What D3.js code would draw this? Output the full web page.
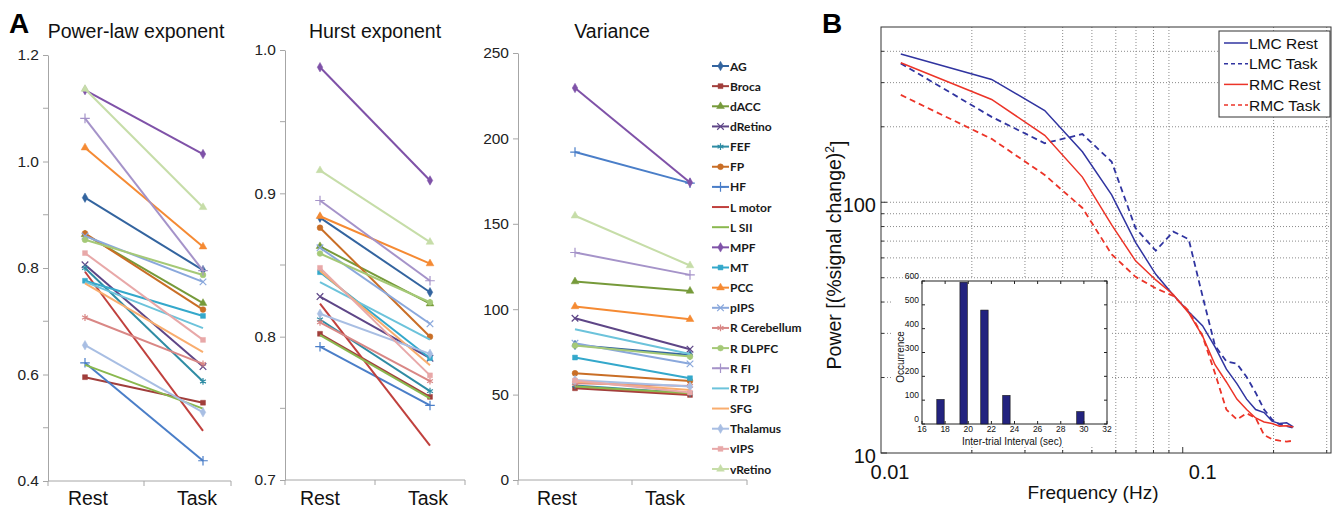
<!DOCTYPE html>
<html>
<head>
<meta charset="utf-8">
<script src="https://cdn.jsdelivr.net/npm/d3@7"></script>
<style>
  body { margin: 0; background: #fff; }
  svg { display: block; font-family: "Liberation Sans", Arial, sans-serif; }
</style>
</head>
<body>
<div id="chart"></div>
<script>
// ---- data: panel A ----
var regions = ["AG", "Broca", "dACC", "dRetino", "FEF", "FP", "HF", "L motor", "L SII", "MPF", "MT",
    "PCC", "pIPS", "R Cerebellum", "R DLPFC", "R FI", "R TPJ", "SFG", "Thalamus", "vIPS", "vRetino"];
var conditions = ["Rest", "Task"];

var plawRest = [0.932, 0.595, 0.863, 0.806, 0.800, 0.865, 0.622, 0.793, 0.618, 1.134, 0.776,
    1.026, 0.860, 0.707, 0.853, 1.081, 0.774, 0.771, 0.655, 0.828, 1.136];
var plawTask = [0.796, 0.547, 0.734, 0.615, 0.587, 0.722, 0.438, 0.494, 0.536, 1.014, 0.710,
    0.840, 0.774, 0.620, 0.787, 0.795, 0.687, 0.642, 0.529, 0.665, 0.914];

var hurstRest = [0.883, 0.802, 0.863, 0.828, 0.812, 0.876, 0.793, 0.823, 0.801, 0.988, 0.845,
    0.884, 0.862, 0.810, 0.858, 0.895, 0.838, 0.846, 0.816, 0.848, 0.916];
var hurstTask = [0.831, 0.758, 0.823, 0.785, 0.762, 0.800, 0.752, 0.724, 0.757, 0.909, 0.785,
    0.851, 0.809, 0.769, 0.824, 0.839, 0.798, 0.780, 0.788, 0.773, 0.866];

var varRest = [79.1, 53.7, 116.2, 94.7, 55.3, 62.5, 192.0, 54.7, 54.7, 229.5, 71.7,
    101.6, 80.1, 56.6, 78.7, 133.2, 88.3, 57.6, 58.6, 58.2, 154.7];
var varTask = [73.2, 49.8, 110.7, 76.6, 50.8, 58.0, 173.8, 50.2, 50.8, 174.2, 59.6,
    94.1, 68.0, 55.1, 72.3, 120.1, 73.8, 52.7, 54.7, 51.2, 125.6];

var plawTicks = [0.4, 0.6, 0.8, 1.0, 1.2], plawMinor = [0.5, 0.7, 0.9, 1.1];
var hurstTicks = [0.7, 0.8, 0.9, 1.0], hurstMinor = [0.75, 0.85, 0.95];
var varTicks = [0, 50, 100, 150, 200, 250];

// ---- data: panel B ----
var freqs = [0.01163, 0.02326, 0.03488, 0.04651, 0.05814, 0.06977, 0.08140, 0.09302, 0.10465, 0.11628,
    0.12791, 0.13953, 0.15116, 0.16279, 0.17442, 0.18605, 0.19767, 0.20930, 0.22093, 0.23256];
var lmcRest = [390, 309, 232, 159, 107, 69.2, 51.6, 42.7, 36.6, 32.2, 26.5, 21.6, 18.9, 16.4, 14.9, 14.5, 13.4, 13.1, 13.2, 12.7];
var lmcTask = [358, 219, 172, 187, 145, 78.8, 64.1, 76.4, 71.2, 42.3, 26.8, 23.2, 22.7, 20.1, 17.4, 14.9, 13.6, 13.0, 12.8, 12.6];
var rmcRest = [360, 257, 185, 126, 81.2, 58.4, 49.0, 42.9, 36.2, 29.3, 22.5, 19.2, 16.4, 14.9, 13.8, 13.3, 13.1, 12.8, 12.85, 12.7];
var rmcTask = [268, 179, 128.5, 94.9, 62.0, 50.4, 45.4, 42.3, 36.9, 29.3, 20.8, 14.9, 13.6, 14.4, 13.8, 11.8, 11.35, 11.2, 11.1, 11.2];
var freqTicks = [0.01, 0.1], powerTicks = [10, 100];

// inset histogram
var itiBins = [17.6, 19.6, 21.4, 23.3, 29.7];
var itiCounts = [103, 595, 478, 120, 52];
var itiTicks = [16, 18, 20, 22, 24, 26, 28, 30, 32], occTicks = [0, 100, 200, 300, 400, 500, 600];

// ---- styles ----
var colors = ["#33649f", "#a13e3b", "#769a3a", "#5e4687", "#2f8ca4", "#c96e26", "#4a7ec8", "#c0403d",
    "#8ab84e", "#7f52a8", "#34a8cb", "#f58a33", "#8aa8dc", "#d98785", "#a5c977", "#a593c9", "#6cc3db",
    "#f9ad6e", "#a8bee3", "#e8a8a8", "#c6dda8"];
var markers = ["diamond", "square", "triangle", "x", "star", "circle", "plus", "none", "none", "diamond",
    "square", "triangle", "x", "star", "circle", "plus", "none", "none", "diamond", "square", "triangle"];
var symbolTypes = {
    diamond: [d3.symbolDiamond, 26, true],
    square: [d3.symbolSquare, 24, true],
    triangle: [d3.symbolTriangle, 26, true],
    circle: [d3.symbolCircle, 26, true],
    x: [d3.symbolTimes, 30, false],
    star: [d3.symbolAsterisk, 32, false],
    plus: [d3.symbolPlus, 32, false]
};

var width = 1332, height = 511;
var svg = d3.select("#chart").append("svg")
    .attr("width", width)
    .attr("height", height);

function addMarker(g, i, cx, cy) {
    var m = symbolTypes[markers[i]];
    if (!m) return;
    g.append("path")
        .attr("d", d3.symbol().type(m[0]).size(m[1]))
        .attr("transform", "translate(" + cx + "," + cy + ")")
        .attr("fill", m[2] ? colors[i] : "none")
        .attr("stroke", colors[i])
        .attr("stroke-width", m[2] ? 0.5 : 1.2);
}

// ---- panel A ----
svg.append("text").attr("x", 9).attr("y", 33)
    .style("font-size", "28px").style("font-weight", "bold").text("A");

var panels = [
    { title: "Power-law exponent", rest: plawRest, task: plawTask, ticks: plawTicks, minor: plawMinor,
      fmt: ".1f", domain: [0.4, 1.2], top: 55, bottom: 481, left: 48, right: 231, mid: 144,
      pts: [85, 203], labelX: [88, 197], titleX: 136 },
    { title: "Hurst exponent", rest: hurstRest, task: hurstTask, ticks: hurstTicks, minor: hurstMinor,
      fmt: ".1f", domain: [0.7, 1.0], top: 50, bottom: 480, left: 285, right: 465, mid: 375,
      pts: [320, 430], labelX: [320, 428], titleX: 375 },
    { title: "Variance", rest: varRest, task: varTask, ticks: varTicks, minor: [],
      fmt: "d", domain: [0, 250], top: 53, bottom: 480, left: 518, right: 747, mid: 632,
      pts: [575, 690], labelX: [557, 665], titleX: 612 }
];

panels.forEach(function (p) {
    var g = svg.append("g");
    var y = d3.scaleLinear().domain(p.domain).range([p.bottom, p.top]);
    var x = d3.scalePoint().domain(conditions).range(p.pts);
    var xl = d3.scalePoint().domain(conditions).range(p.labelX);

    g.append("text")
        .attr("x", p.titleX).attr("y", 38)
        .attr("text-anchor", "middle")
        .style("font-size", "19.5px").attr("fill", "#111")
        .text(p.title);

    // y axis
    var yAxis = g.append("g")
        .attr("transform", "translate(" + p.left + ",0)")
        .call(d3.axisLeft(y).tickValues(p.ticks).tickFormat(d3.format(p.fmt)).tickSize(5).tickSizeOuter(0).tickPadding(4));
    yAxis.select(".domain").attr("stroke", "#a6a6a6");
    yAxis.selectAll(".tick line").attr("stroke", "#a6a6a6");
    yAxis.selectAll(".tick text").style("font-size", "15.5px").style("font-family", "Liberation Sans, Arial, sans-serif").attr("fill", "#222");
    p.minor.forEach(function (v) {
        g.append("line").attr("x1", p.left - 5).attr("x2", p.left)
            .attr("y1", y(v)).attr("y2", y(v)).attr("stroke", "#a6a6a6");
    });

    // category axis
    g.append("line").attr("x1", p.left).attr("x2", p.right)
        .attr("y1", p.bottom).attr("y2", p.bottom).attr("stroke", "#a6a6a6");
    [p.left, p.mid, p.right].forEach(function (tx) {
        g.append("line").attr("x1", tx).attr("x2", tx)
            .attr("y1", p.bottom).attr("y2", p.bottom + 5).attr("stroke", "#a6a6a6");
    });
    conditions.forEach(function (c) {
        g.append("text").attr("x", xl(c)).attr("y", 505)
            .attr("text-anchor", "middle").style("font-size", "19.5px").attr("fill", "#111")
            .text(c);
    });

    // one line per region, Rest -> Task
    var line = d3.line().x(function (d) { return x(d.c); }).y(function (d) { return y(d.v); });
    regions.forEach(function (r, i) {
        var pts = [{ c: "Rest", v: p.rest[i] }, { c: "Task", v: p.task[i] }];
        g.append("path").datum(pts)
            .attr("d", line)
            .attr("fill", "none")
            .attr("stroke", colors[i])
            .attr("stroke-width", 2);
        pts.forEach(function (d) { addMarker(g, i, x(d.c), y(d.v)); });
    });
});

// legend for panel A
var legA = svg.append("g");
regions.forEach(function (r, i) {
    var ly = 66 + i * 20.15;
    legA.append("line").attr("x1", 712).attr("x2", 729).attr("y1", ly).attr("y2", ly)
        .attr("stroke", colors[i]).attr("stroke-width", 2);
    addMarker(legA, i, 720.5, ly);
    legA.append("text").attr("x", 730).attr("y", ly + 4.5)
        .style("font-family", "Lato, sans-serif").style("font-weight", "bold").style("font-size", "12px")
        .attr("fill", "#1a1a1a").text(r);
});

// ---- panel B ----
var bx = d3.scaleLog().domain([0.01, 0.31]).range([881, 1331]);
var by = d3.scaleLog().domain([10, 500]).range([453, 27]);
var gB = svg.append("g");

svg.append("text").attr("x", 822).attr("y", 33)
    .style("font-size", "28px").style("font-weight", "bold").text("B");

gB.append("rect").attr("x", 881).attr("y", 27).attr("width", 450).attr("height", 426).attr("fill", "#fff");

// dotted grid
var xGrid = [0.02, 0.03, 0.04, 0.05, 0.06, 0.07, 0.08, 0.09, 0.2, 0.3];
var yGrid = [20, 30, 40, 50, 60, 70, 80, 90, 100, 200, 300, 400];
xGrid.forEach(function (v) {
    gB.append("line").attr("x1", bx(v)).attr("x2", bx(v)).attr("y1", 27).attr("y2", 453)
        .attr("stroke", "#8a8a8a").attr("stroke-width", 1).attr("stroke-dasharray", "1,2");
});
yGrid.forEach(function (v) {
    gB.append("line").attr("x1", 881).attr("x2", 1331).attr("y1", by(v)).attr("y2", by(v))
        .attr("stroke", "#8a8a8a").attr("stroke-width", 1).attr("stroke-dasharray", "1,2");
});

// frame + ticks
gB.append("rect").attr("x", 881).attr("y", 27).attr("width", 450).attr("height", 426)
    .attr("fill", "none").attr("stroke", "#333").attr("stroke-width", 1);
yGrid.concat([10]).forEach(function (v) {
    var len = (v === 10 || v === 100) ? 6 : 3;
    gB.append("line").attr("x1", 881).attr("x2", 881 + len).attr("y1", by(v)).attr("y2", by(v)).attr("stroke", "#333");
});
xGrid.concat([0.1]).forEach(function (v) {
    var len = v === 0.1 ? 6 : 3;
    gB.append("line").attr("x1", bx(v)).attr("x2", bx(v)).attr("y1", 453).attr("y2", 453 - len).attr("stroke", "#333");
});

// tick labels (they sit a little right of the grid in the original)
var xShift = [9, 20];
freqTicks.forEach(function (v, i) {
    gB.append("text").attr("x", bx(v) + xShift[i]).attr("y", 479)
        .attr("text-anchor", "middle").style("font-size", "20px").attr("fill", "#111")
        .text(v === 0.01 ? "0.01" : "0.1");
});
powerTicks.forEach(function (v) {
    gB.append("text").attr("x", 876).attr("y", by(v) + 3).attr("dy", "0.35em")
        .attr("text-anchor", "end").style("font-size", "20px").attr("fill", "#111")
        .text(v);
});

gB.append("text").attr("x", 1093).attr("y", 499).attr("text-anchor", "middle")
    .style("font-size", "19px").attr("fill", "#111").text("Frequency (Hz)");
var yl = gB.append("text").attr("transform", "translate(841,255) rotate(-90)")
    .attr("text-anchor", "middle").style("font-size", "19.5px").attr("fill", "#111");
yl.append("tspan").text("Power [(%signal change)");
yl.append("tspan").attr("dy", "-0.55em").style("font-size", "12px").text("2");
yl.append("tspan").attr("dy", "0.55em").text("]");

// spectra
var specLine = d3.line()
    .x(function (d, i) { return bx(freqs[i]); })
    .y(function (d) { return by(d); });
var spectra = [
    { name: "LMC Rest", vals: lmcRest, color: "#3034a0", dash: null, w: 1.5 },
    { name: "LMC Task", vals: lmcTask, color: "#3034a0", dash: "6,4", w: 1.8 },
    { name: "RMC Rest", vals: rmcRest, color: "#ec3428", dash: null, w: 1.5 },
    { name: "RMC Task", vals: rmcTask, color: "#ec3428", dash: "6,4", w: 1.8 }
];

// inset histogram (white patch hides the grid behind it)
gB.append("rect").attr("x", 893).attr("y", 279).attr("width", 218).attr("height", 168).attr("fill", "#fff");

spectra.forEach(function (s) {
    gB.append("path").datum(s.vals)
        .attr("d", specLine)
        .attr("fill", "none")
        .attr("stroke", s.color)
        .attr("stroke-width", s.w)
        .attr("stroke-dasharray", s.dash);
});

var ix = d3.scaleLinear().domain([16, 32]).range([922, 1107]);
var iy = d3.scaleLinear().domain([0, 600]).range([424, 281]);
var gI = gB.append("g");
gI.append("rect").attr("x", 922).attr("y", 281).attr("width", 185).attr("height", 143)
    .attr("fill", "#fff").attr("stroke", "#222").attr("stroke-width", 1);
var bw = ix(16.64) - ix(16);
itiBins.forEach(function (b, i) {
    gI.append("rect")
        .attr("x", ix(b) - bw / 2).attr("y", iy(itiCounts[i]))
        .attr("width", bw).attr("height", iy(0) - iy(itiCounts[i]))
        .attr("fill", "#23237f").attr("stroke", "#111").attr("stroke-width", 0.6);
});
itiTicks.forEach(function (v) {
    gI.append("line").attr("x1", ix(v)).attr("x2", ix(v)).attr("y1", 424).attr("y2", 421).attr("stroke", "#222");
    gI.append("line").attr("x1", ix(v)).attr("x2", ix(v)).attr("y1", 281).attr("y2", 284).attr("stroke", "#222");
    gI.append("text").attr("x", ix(v)).attr("y", 432).attr("text-anchor", "middle")
        .style("font-size", "8.5px").attr("fill", "#111").text(v);
});
occTicks.forEach(function (v) {
    gI.append("line").attr("x1", 922).attr("x2", 925).attr("y1", iy(v)).attr("y2", iy(v)).attr("stroke", "#222");
    gI.append("line").attr("x1", 1107).attr("x2", 1104).attr("y1", iy(v)).attr("y2", iy(v)).attr("stroke", "#222");
    gI.append("text").attr("x", 919).attr("y", iy(v) - 2).attr("text-anchor", "end")
        .style("font-size", "8.5px").attr("fill", "#111").text(v);
});
gI.append("text").attr("x", 1012).attr("y", 445).attr("text-anchor", "middle")
    .style("font-size", "10px").attr("fill", "#111").text("Inter-trial Interval (sec)");
gI.append("text").attr("transform", "translate(904,357) rotate(-90)").attr("text-anchor", "middle")
    .style("font-size", "10px").attr("fill", "#111").text("Occurrence");

// legend for panel B
var legB = gB.append("g");
legB.append("rect").attr("x", 1219).attr("y", 31).attr("width", 111).attr("height", 86)
    .attr("fill", "#fff").attr("stroke", "#333").attr("stroke-width", 1);
spectra.forEach(function (s, i) {
    var ly = 43 + i * 20.7;
    legB.append("line").attr("x1", 1224).attr("x2", 1248).attr("y1", ly).attr("y2", ly)
        .attr("stroke", s.color).attr("stroke-width", 1.5).attr("stroke-dasharray", s.dash ? "4,3" : null);
    legB.append("text").attr("x", 1249).attr("y", ly + 5.5)
        .style("font-size", "15.5px").attr("fill", "#111").text(s.name);
});
</script>
</body>
</html>
